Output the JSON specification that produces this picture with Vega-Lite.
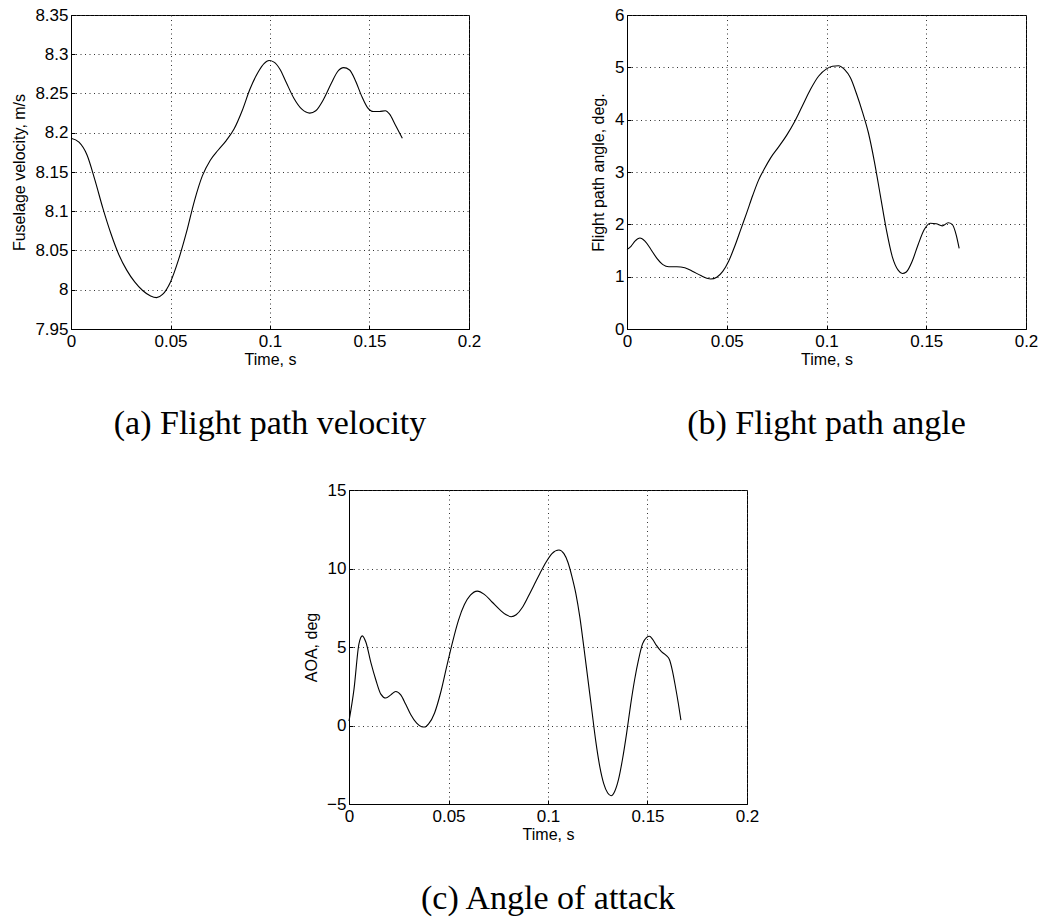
{
  "$schema": "https://vega.github.io/schema/vega-lite/v6.json",
  "padding": {"left": 10, "top": 5, "right": 5, "bottom": 5},
  "background": "white",
  "datasets": {
    "vel": [
      {"t": 0, "v": 8.193}, {"t": 0.004, "v": 8.188}, {"t": 0.008, "v": 8.172}, {"t": 0.012, "v": 8.14},
      {"t": 0.016, "v": 8.104}, {"t": 0.02, "v": 8.072}, {"t": 0.024, "v": 8.045}, {"t": 0.028, "v": 8.025},
      {"t": 0.032, "v": 8.01}, {"t": 0.036, "v": 7.999}, {"t": 0.04, "v": 7.992}, {"t": 0.043, "v": 7.99},
      {"t": 0.046, "v": 7.994}, {"t": 0.05, "v": 8.01}, {"t": 0.054, "v": 8.038}, {"t": 0.058, "v": 8.073},
      {"t": 0.062, "v": 8.113}, {"t": 0.066, "v": 8.145}, {"t": 0.07, "v": 8.165}, {"t": 0.074, "v": 8.178},
      {"t": 0.078, "v": 8.19}, {"t": 0.082, "v": 8.205}, {"t": 0.086, "v": 8.228}, {"t": 0.09, "v": 8.256},
      {"t": 0.094, "v": 8.277}, {"t": 0.097, "v": 8.288}, {"t": 0.0995, "v": 8.292}, {"t": 0.102, "v": 8.29},
      {"t": 0.105, "v": 8.281}, {"t": 0.108, "v": 8.265}, {"t": 0.112, "v": 8.244}, {"t": 0.116, "v": 8.23},
      {"t": 0.12, "v": 8.225}, {"t": 0.123, "v": 8.228}, {"t": 0.127, "v": 8.243}, {"t": 0.131, "v": 8.264},
      {"t": 0.134, "v": 8.278}, {"t": 0.137, "v": 8.283}, {"t": 0.14, "v": 8.28}, {"t": 0.143, "v": 8.266},
      {"t": 0.146, "v": 8.247}, {"t": 0.149, "v": 8.232}, {"t": 0.152, "v": 8.227}, {"t": 0.155, "v": 8.227},
      {"t": 0.158, "v": 8.228}, {"t": 0.16, "v": 8.224}, {"t": 0.163, "v": 8.21}, {"t": 0.1665, "v": 8.193}
    ],
    "fpa": [
      {"t": 0, "v": 1.52}, {"t": 0.002, "v": 1.58}, {"t": 0.004, "v": 1.68}, {"t": 0.0065, "v": 1.74},
      {"t": 0.009, "v": 1.68}, {"t": 0.012, "v": 1.52}, {"t": 0.015, "v": 1.35}, {"t": 0.018, "v": 1.23},
      {"t": 0.021, "v": 1.19}, {"t": 0.025, "v": 1.19}, {"t": 0.029, "v": 1.17}, {"t": 0.033, "v": 1.1},
      {"t": 0.037, "v": 1.02}, {"t": 0.04, "v": 0.97}, {"t": 0.042, "v": 0.955}, {"t": 0.045, "v": 0.99},
      {"t": 0.048, "v": 1.1}, {"t": 0.051, "v": 1.3}, {"t": 0.054, "v": 1.58}, {"t": 0.057, "v": 1.9},
      {"t": 0.06, "v": 2.22}, {"t": 0.063, "v": 2.55}, {"t": 0.066, "v": 2.85}, {"t": 0.069, "v": 3.07},
      {"t": 0.072, "v": 3.27}, {"t": 0.076, "v": 3.48}, {"t": 0.08, "v": 3.7}, {"t": 0.084, "v": 3.96},
      {"t": 0.088, "v": 4.27}, {"t": 0.092, "v": 4.58}, {"t": 0.096, "v": 4.83}, {"t": 0.1, "v": 4.97},
      {"t": 0.103, "v": 5.02}, {"t": 0.106, "v": 5.03}, {"t": 0.109, "v": 4.96}, {"t": 0.112, "v": 4.8},
      {"t": 0.115, "v": 4.5}, {"t": 0.118, "v": 4.15}, {"t": 0.121, "v": 3.75}, {"t": 0.124, "v": 3.2},
      {"t": 0.127, "v": 2.55}, {"t": 0.13, "v": 1.9}, {"t": 0.133, "v": 1.38}, {"t": 0.136, "v": 1.12},
      {"t": 0.138, "v": 1.06}, {"t": 0.14, "v": 1.09}, {"t": 0.143, "v": 1.3}, {"t": 0.146, "v": 1.62},
      {"t": 0.149, "v": 1.9}, {"t": 0.152, "v": 2.02}, {"t": 0.155, "v": 2.01}, {"t": 0.158, "v": 1.97},
      {"t": 0.161, "v": 2.03}, {"t": 0.163, "v": 2.0}, {"t": 0.165, "v": 1.8}, {"t": 0.1665, "v": 1.54}
    ],
    "aoa": [
      {"t": 0, "v": 0.28}, {"t": 0.0025, "v": 2.3}, {"t": 0.005, "v": 5.2}, {"t": 0.0067, "v": 5.71},
      {"t": 0.0085, "v": 5.3}, {"t": 0.011, "v": 4.0}, {"t": 0.0135, "v": 2.9}, {"t": 0.016, "v": 2.0},
      {"t": 0.0185, "v": 1.75}, {"t": 0.021, "v": 1.95}, {"t": 0.0235, "v": 2.17}, {"t": 0.026, "v": 1.95},
      {"t": 0.0285, "v": 1.35}, {"t": 0.031, "v": 0.7}, {"t": 0.034, "v": 0.15}, {"t": 0.0365, "v": -0.08},
      {"t": 0.038, "v": -0.1}, {"t": 0.04, "v": 0.1}, {"t": 0.043, "v": 0.8}, {"t": 0.046, "v": 2.07},
      {"t": 0.049, "v": 3.7}, {"t": 0.052, "v": 5.3}, {"t": 0.055, "v": 6.7}, {"t": 0.058, "v": 7.7},
      {"t": 0.061, "v": 8.3}, {"t": 0.0645, "v": 8.56}, {"t": 0.068, "v": 8.35}, {"t": 0.072, "v": 7.85},
      {"t": 0.076, "v": 7.35}, {"t": 0.079, "v": 7.05}, {"t": 0.0815, "v": 6.93}, {"t": 0.084, "v": 7.05},
      {"t": 0.087, "v": 7.5}, {"t": 0.09, "v": 8.2}, {"t": 0.093, "v": 8.95}, {"t": 0.096, "v": 9.7},
      {"t": 0.099, "v": 10.4}, {"t": 0.102, "v": 10.95}, {"t": 0.1055, "v": 11.18}, {"t": 0.108, "v": 10.95},
      {"t": 0.11, "v": 10.4}, {"t": 0.112, "v": 9.5}, {"t": 0.114, "v": 8.4}, {"t": 0.116, "v": 6.9},
      {"t": 0.118, "v": 5.0}, {"t": 0.12, "v": 3.0}, {"t": 0.122, "v": 1.0}, {"t": 0.124, "v": -1.0},
      {"t": 0.126, "v": -2.6}, {"t": 0.128, "v": -3.7}, {"t": 0.13, "v": -4.3}, {"t": 0.1317, "v": -4.47},
      {"t": 0.1335, "v": -4.2}, {"t": 0.1355, "v": -3.4}, {"t": 0.1375, "v": -2.1}, {"t": 0.1395, "v": -0.5},
      {"t": 0.1415, "v": 1.3}, {"t": 0.1435, "v": 2.9}, {"t": 0.1455, "v": 4.2}, {"t": 0.1475, "v": 5.2},
      {"t": 0.1495, "v": 5.6}, {"t": 0.151, "v": 5.68}, {"t": 0.1525, "v": 5.5}, {"t": 0.1545, "v": 5.1},
      {"t": 0.157, "v": 4.7}, {"t": 0.1595, "v": 4.45}, {"t": 0.161, "v": 4.2}, {"t": 0.1625, "v": 3.5},
      {"t": 0.164, "v": 2.5}, {"t": 0.1655, "v": 1.4}, {"t": 0.1668, "v": 0.34}
    ]
  },
  "config": {
    "view": {"stroke": "#000", "strokeWidth": 1},
    "axis": {
      "labelFont": "Liberation Sans", "labelFontSize": 17, "labelColor": "#000",
      "titleFont": "Liberation Sans", "titleFontSize": 16, "titleFontWeight": "normal", "titleColor": "#000",
      "domainColor": "#000", "domainWidth": 1,
      "ticks": true, "tickSize": -4, "tickColor": "#000", "tickWidth": 1,
      "grid": true, "gridColor": "#333", "gridDash": [1, 3.5], "gridWidth": 1, "gridOpacity": 1,
      "labelFlush": false, "labelOverlap": false
    },
    "axisX": {"labelPadding": 8, "titleY": 22, "titleBaseline": "top"},
    "axisY": {"labelPadding": 7, "titleBaseline": "middle"},
    "title": {
      "font": "Liberation Serif", "fontSize": 34, "fontWeight": "normal", "color": "#000",
      "orient": "bottom", "anchor": "middle", "frame": "group", "baseline": "top", "offset": 40
    },
    "line": {"color": "#000", "strokeWidth": 1.1, "interpolate": "monotone"}
  },
  "bounds": "flush",
  "spacing": 475,
  "vconcat": [
    {
      "bounds": "flush",
      "spacing": 158,
      "hconcat": [
        {
          "width": 398, "height": 314,
          "data": {"name": "vel"},
          "title": {"text": "(a) Flight path velocity"},
          "mark": "line",
          "encoding": {
            "x": {"field": "t", "type": "quantitative", "scale": {"domain": [0, 0.2], "nice": false},
                  "axis": {"values": [0, 0.05, 0.1, 0.15, 0.2], "format": "~g", "title": "Time, s"}},
            "y": {"field": "v", "type": "quantitative", "scale": {"domain": [7.95, 8.35], "nice": false, "zero": false},
                  "axis": {"values": [7.95, 8, 8.05, 8.1, 8.15, 8.2, 8.25, 8.3, 8.35], "format": "~g",
                           "title": "Fuselage velocity, m/s", "titleX": -52}}
          }
        },
        {
          "width": 399, "height": 314,
          "data": {"name": "fpa"},
          "title": {"text": "(b) Flight path angle"},
          "mark": "line",
          "encoding": {
            "x": {"field": "t", "type": "quantitative", "scale": {"domain": [0, 0.2], "nice": false},
                  "axis": {"values": [0, 0.05, 0.1, 0.15, 0.2], "format": "~g", "title": "Time, s"}},
            "y": {"field": "v", "type": "quantitative", "scale": {"domain": [0, 6], "nice": false},
                  "axis": {"values": [0, 1, 2, 3, 4, 5, 6], "format": "~g",
                           "title": "Flight path angle, deg.", "titleX": -29}}
          }
        }
      ]
    },
    {
      "bounds": "flush",
      "spacing": 20,
      "hconcat": [
        {
          "width": 258, "height": 1,
          "view": {"stroke": null},
          "data": {"values": [{"t": 0}]},
          "mark": {"type": "point", "opacity": 0},
          "encoding": {}
        },
        {
          "width": 398, "height": 314,
          "data": {"name": "aoa"},
          "title": {"text": "(c) Angle of attack"},
          "mark": "line",
          "encoding": {
            "x": {"field": "t", "type": "quantitative", "scale": {"domain": [0, 0.2], "nice": false},
                  "axis": {"values": [0, 0.05, 0.1, 0.15, 0.2], "format": "~g", "title": "Time, s"}},
            "y": {"field": "v", "type": "quantitative", "scale": {"domain": [-5, 15], "nice": false, "zero": false},
                  "axis": {"values": [-5, 0, 5, 10, 15], "format": "~g",
                           "title": "AOA, deg", "titleX": -38}}
          }
        }
      ]
    }
  ]
}
